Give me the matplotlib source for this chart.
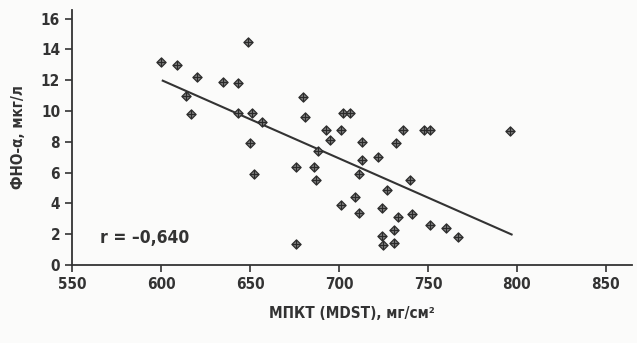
import matplotlib
matplotlib.use("Agg")
import matplotlib.pyplot as plt
import numpy as np

# MDST (mg/cm2) vs TNF-alpha (pg/ml)
mdst = [600, 609, 620, 614, 617, 635, 643, 649, 643, 651, 657, 650, 652,
        680, 681, 676, 676, 686, 687, 688, 693, 695, 701, 702, 706, 701,
        713, 713, 711, 722, 732, 736, 748, 751, 796, 740, 727, 709, 711,
        724, 733, 741, 751, 760, 767, 731, 724, 725, 731]
tnf = [13.2, 13.0, 12.2, 11.0, 9.8, 11.9, 11.8, 14.5, 9.9, 9.9, 9.3, 7.9, 5.9,
       10.9, 9.6, 6.4, 1.4, 6.4, 5.5, 7.4, 8.8, 8.1, 8.8, 9.85, 9.85, 3.9,
       8.0, 6.8, 5.9, 7.0, 7.9, 8.8, 8.8, 8.8, 8.7, 5.5, 4.9, 4.4, 3.4,
       3.7, 3.1, 3.3, 2.6, 2.4, 1.85, 2.3, 1.9, 1.3, 1.45]

# regression line as drawn
fit_x = [601, 797]
fit_y = [11.97, 1.99]
r_text = "r = \u20130,640"

ink = "#333333"
plt.rcParams["font.family"] = ["DejaVu Sans"]
plt.rcParams["font.stretch"] = "condensed"

fig = plt.figure(figsize=(6.37, 3.43), dpi=100, facecolor="#fbfbfa")
ax = fig.add_axes([0.113, 0.227, 0.879, 0.744])
ax.set_facecolor("#fbfbfa")

ax.plot(fit_x, fit_y, color=ink, lw=1.5, zorder=2)
ax.scatter(mdst, tnf, marker="D", s=22, facecolor="#7a7a7a",
           edgecolor="#2e2e2e", linewidths=0.9, zorder=3)
ax.scatter(mdst, tnf, marker="+", s=26, color="#2a2a2a",
           linewidths=0.8, zorder=4)

ax.set_xlim(550, 864.6)
ax.set_ylim(0, 16.56)
ax.set_xticks(np.arange(550, 851, 50))
ax.set_yticks(np.arange(0, 17, 2))

for s in ["top", "right"]:
    ax.spines[s].set_visible(False)
for s in ["left", "bottom"]:
    ax.spines[s].set_color(ink)
    ax.spines[s].set_linewidth(1.3)
ax.tick_params(direction="out", length=5, width=1.2, color=ink,
               labelcolor=ink, labelsize=11)
for lab in ax.get_xticklabels() + ax.get_yticklabels():
    lab.set_fontweight("semibold")

ax.set_xlabel("МПКТ (MDST), мг/см\u00b2", fontsize=11, color=ink,
              fontweight="semibold", labelpad=10)
ax.set_ylabel("ФНО-\u03b1, мкг/л", fontsize=11, color=ink,
              fontweight="semibold", labelpad=11)
ax.text(0.05, 0.085, r_text, transform=ax.transAxes, fontsize=12.5,
        color=ink, fontweight="semibold")

fig.savefig("out.png", dpi=100, facecolor=fig.get_facecolor())
